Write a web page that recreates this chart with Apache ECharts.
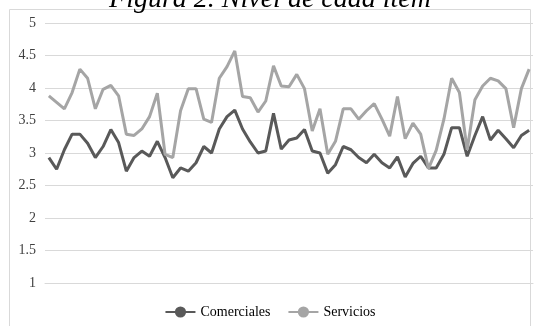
<!DOCTYPE html>
<html>
<head>
<meta charset="utf-8">
<script src="https://cdn.jsdelivr.net/npm/echarts@6/dist/echarts.min.js"></script>
<style>
  html, body { margin: 0; padding: 0; background: #fff; }
  #chart { width: 540px; height: 326px; }
</style>
</head>
<body>
<div id="chart"></div>
<script>
// Nivel de cada ítem: 63 ítems, dos series
const items = [];
for (let i = 1; i <= 63; i++) items.push('Ítem ' + i);

const comerciales = [
  2.93, 2.75, 3.05, 3.29, 3.29, 3.15, 2.93, 3.10, 3.36, 3.16,
  2.72, 2.93, 3.03, 2.95, 3.18, 2.93, 2.62, 2.77, 2.72, 2.85,
  3.10, 3.00, 3.37, 3.56, 3.66, 3.37, 3.17, 3.00, 3.03, 3.61,
  3.06, 3.20, 3.23, 3.36, 3.03, 3.00, 2.69, 2.82, 3.10, 3.05,
  2.93, 2.85, 2.98, 2.85, 2.77, 2.94, 2.63, 2.84, 2.95, 2.77,
  2.77, 2.98, 3.39, 3.39, 2.95, 3.27, 3.56, 3.20, 3.35, 3.22,
  3.08, 3.27, 3.35
];

const servicios = [
  3.88, 3.78, 3.68, 3.93, 4.29, 4.15, 3.68, 3.98, 4.04, 3.88,
  3.29, 3.27, 3.37, 3.56, 3.92, 2.98, 2.93, 3.65, 3.99, 3.99,
  3.52, 3.47, 4.15, 4.33, 4.57, 3.87, 3.85, 3.63, 3.80, 4.34,
  4.03, 4.02, 4.21, 3.99, 3.34, 3.68, 2.98, 3.18, 3.68, 3.68,
  3.52, 3.65, 3.76, 3.52, 3.26, 3.87, 3.22, 3.46, 3.29, 2.76,
  3.04, 3.52, 4.15, 3.93, 3.05, 3.82, 4.03, 4.15, 4.11, 3.99,
  3.39, 3.99, 4.29
];

const serif = "'Liberation Serif', 'Times New Roman', serif";

const myChart = echarts.init(document.getElementById('chart'));
myChart.setOption({
  animation: false,
  title: {
    text: 'Figura 2. Nivel de cada ítem',
    left: 'center',
    top: -19,
    textStyle: { fontFamily: serif, fontStyle: 'italic', fontWeight: 'normal', fontSize: 28, color: '#000' }
  },
  graphic: [{
    type: 'rect',
    silent: true,
    shape: { x: 9.5, y: 9.5, width: 521, height: 330 },
    style: { fill: 'none', stroke: '#D9D9D9', lineWidth: 1 }
  }],
  legend: {
    data: ['Comerciales', 'Servicios'],
    left: 'center',
    top: 300,
    itemWidth: 30,
    itemHeight: 14,
    itemGap: 17,
    textStyle: { fontFamily: serif, fontSize: 14, color: '#000' }
  },
  grid: { left: 45, right: 7, top: 23, bottom: 43 },
  xAxis: {
    type: 'category',
    data: items,
    boundaryGap: true,
    axisLine: { lineStyle: { color: '#D9D9D9' } },
    axisTick: { show: false },
    axisLabel: { show: false }
  },
  yAxis: {
    type: 'value',
    min: 1,
    max: 5,
    interval: 0.5,
    axisLine: { show: false },
    axisTick: { show: false },
    axisLabel: { fontFamily: serif, fontSize: 14, color: '#404040', margin: 9 },
    splitLine: { lineStyle: { color: '#D9D9D9', width: 1 } }
  },
  series: [
    {
      name: 'Comerciales',
      type: 'line',
      data: comerciales,
      symbol: 'circle',
      symbolSize: 6,
      lineStyle: { color: '#595959', width: 3 },
      itemStyle: { color: '#595959' }
    },
    {
      name: 'Servicios',
      type: 'line',
      data: servicios,
      symbol: 'circle',
      symbolSize: 6,
      lineStyle: { color: '#A5A5A5', width: 3 },
      itemStyle: { color: '#A5A5A5' }
    }
  ]
});
</script>
</body>
</html>
